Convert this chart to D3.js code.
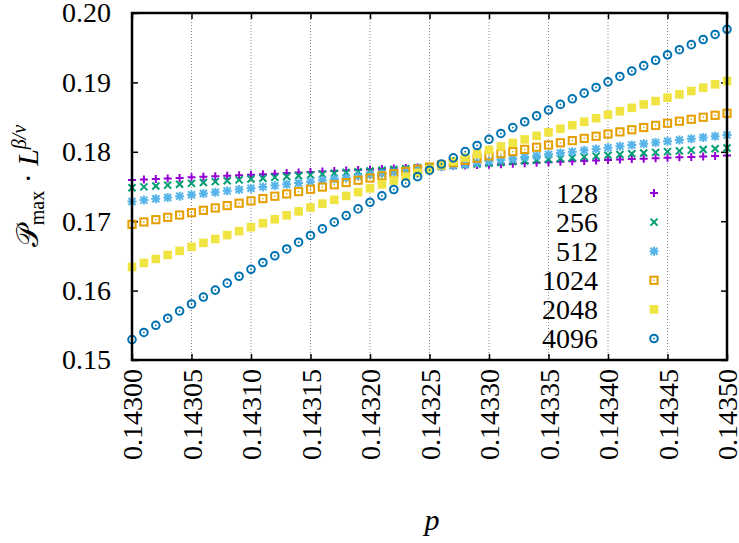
<!DOCTYPE html>
<html>
<head>
<meta charset="utf-8">
<script src="https://cdn.jsdelivr.net/npm/d3@7"></script>
<style>
  body { margin: 0; background: #fff; }
</style>
</head>
<body>
<div id="chart"></div>
<script>
// p values: 0.14300 .. 0.14350, step 0.00001
var pVals = d3.range(51).map(function(i){ return +(0.143 + i*0.00001).toFixed(5); });

var sizes = ["128", "256", "512", "1024", "2048", "4096"];

var s128 = [0.17594,0.17602,0.17609,0.17617,0.17624,0.17632,0.17640,0.17647,0.17655,0.17662,
            0.17670,0.17678,0.17685,0.17693,0.17700,0.17708,0.17715,0.17723,0.17730,0.17738,
            0.17745,0.17752,0.17759,0.17766,0.17773,0.17780,0.17787,0.17794,0.17801,0.17808,
            0.17815,0.17822,0.17829,0.17836,0.17843,0.17850,0.17856,0.17863,0.17869,0.17876,
            0.17882,0.17888,0.17895,0.17901,0.17908,0.17914,0.17920,0.17926,0.17933,0.17939,0.17945];
var s256 = [0.17483,0.17495,0.17508,0.17520,0.17533,0.17545,0.17557,0.17570,0.17582,0.17595,
            0.17607,0.17619,0.17631,0.17643,0.17655,0.17667,0.17678,0.17690,0.17701,0.17713,
            0.17724,0.17735,0.17746,0.17758,0.17769,0.17780,0.17791,0.17802,0.17814,0.17825,
            0.17836,0.17847,0.17858,0.17870,0.17881,0.17892,0.17904,0.17915,0.17927,0.17938,
            0.17950,0.17961,0.17971,0.17982,0.17992,0.18003,0.18013,0.18024,0.18034,0.18045,0.18055];
var s512 = [0.17285,0.17304,0.17323,0.17342,0.17361,0.17380,0.17399,0.17418,0.17437,0.17456,
            0.17475,0.17494,0.17513,0.17532,0.17551,0.17570,0.17589,0.17608,0.17627,0.17646,
            0.17665,0.17685,0.17705,0.17725,0.17745,0.17765,0.17785,0.17805,0.17825,0.17845,
            0.17865,0.17885,0.17904,0.17924,0.17943,0.17963,0.17982,0.18002,0.18021,0.18041,
            0.18060,0.18079,0.18097,0.18116,0.18134,0.18153,0.18171,0.18189,0.18206,0.18224,0.18242];
var s1024 = [0.16955,0.16989,0.17022,0.17056,0.17089,0.17123,0.17157,0.17191,0.17225,0.17259,
             0.17293,0.17326,0.17360,0.17393,0.17427,0.17460,0.17492,0.17525,0.17557,0.17590,
             0.17622,0.17654,0.17685,0.17717,0.17748,0.17780,0.17812,0.17844,0.17876,0.17908,
             0.17940,0.17972,0.18003,0.18035,0.18066,0.18098,0.18130,0.18161,0.18193,0.18224,
             0.18256,0.18287,0.18318,0.18350,0.18381,0.18412,0.18441,0.18469,0.18498,0.18526,0.18555];
var s2048 = [0.16340,0.16398,0.16456,0.16514,0.16572,0.16630,0.16687,0.16744,0.16800,0.16857,
             0.16914,0.16971,0.17028,0.17084,0.17141,0.17198,0.17253,0.17308,0.17364,0.17419,
             0.17474,0.17530,0.17585,0.17641,0.17696,0.17752,0.17807,0.17862,0.17916,0.17971,
             0.18026,0.18077,0.18128,0.18179,0.18230,0.18281,0.18332,0.18383,0.18433,0.18484,
             0.18535,0.18584,0.18633,0.18682,0.18731,0.18780,0.18828,0.18876,0.18924,0.18972,0.19020];
var s4096 = [0.15295,0.15397,0.15500,0.15602,0.15705,0.15807,0.15907,0.16007,0.16107,0.16207,
             0.16307,0.16405,0.16502,0.16600,0.16697,0.16795,0.16890,0.16986,0.17081,0.17177,
             0.17272,0.17365,0.17457,0.17550,0.17642,0.17735,0.17824,0.17913,0.18002,0.18091,
             0.18180,0.18264,0.18349,0.18433,0.18518,0.18602,0.18683,0.18764,0.18846,0.18927,
             0.19008,0.19086,0.19164,0.19241,0.19319,0.19397,0.19471,0.19544,0.19618,0.19691,0.19765];

var xTicks = [0.143, 0.14305, 0.1431, 0.14315, 0.1432, 0.14325, 0.1433, 0.14335, 0.1434, 0.14345, 0.1435];
var yTicks = [0.15, 0.16, 0.17, 0.18, 0.19, 0.20];

var seriesVals = [s128, s256, s512, s1024, s2048, s4096];
var colors = ["#9400d3", "#009e73", "#56b4e9", "#e69f00", "#f0e442", "#0072b2"];
var markers = ["plus", "cross", "star", "square", "fsquare", "circle"];

var SERIF = '"Liberation Serif", "Times New Roman", "DejaVu Serif", serif';

var W = 739, H = 543;
var margin = {left: 132, right: 12, top: 13, bottom: 183};
var pw = W - margin.left - margin.right, ph = H - margin.top - margin.bottom;

var svg = d3.select("#chart").append("svg").attr("width", W).attr("height", H);
var g = svg.append("g").attr("transform", "translate(" + margin.left + "," + margin.top + ")");

var x = d3.scaleLinear().domain([0.143, 0.1435]).range([0, pw]);
var y = d3.scaleLinear().domain([0.15, 0.20]).range([ph, 0]);

// vertical dotted grid
g.selectAll(".grid").data(xTicks.slice(1, -1)).enter().append("line")
  .attr("x1", function(d){ return x(d); }).attr("x2", function(d){ return x(d); })
  .attr("y1", 0).attr("y2", ph)
  .attr("stroke", "#888").attr("stroke-width", 1).attr("stroke-dasharray", "1,2");

// axes, ticks inward
var xa = g.append("g").attr("transform", "translate(0," + ph + ")")
  .call(d3.axisBottom(x).tickValues(xTicks).tickSize(-6).tickFormat(d3.format(".5f")));
xa.selectAll("text")
  .attr("transform", "rotate(-90)")
  .attr("x", -9).attr("y", 0).attr("dy", "0.35em")
  .style("text-anchor", "end").style("font-size", "28px");

g.append("g").call(d3.axisTop(x).tickValues(xTicks).tickSize(-6).tickFormat(""));

var ya = g.append("g")
  .call(d3.axisLeft(y).tickValues(yTicks).tickSize(-6).tickPadding(21).tickFormat(d3.format(".2f")));
ya.selectAll("text").style("font-size", "28px");

g.append("g").attr("transform", "translate(" + pw + ",0)")
  .call(d3.axisRight(y).tickValues(yTicks).tickSize(-6).tickFormat(""));

g.selectAll(".domain").remove();
g.selectAll(".tick line").attr("stroke", "#000").attr("stroke-width", 1.5);

var drawMarker = function(sel, type, color) {
  if (type == "plus") {
    sel.append("path").attr("d", "M-4,0H4M0,-4V4").attr("stroke", color).attr("stroke-width", 2).attr("fill", "none");
  } else if (type == "cross") {
    sel.append("path").attr("d", "M-3.5,-3.5L3.5,3.5M-3.5,3.5L3.5,-3.5").attr("stroke", color).attr("stroke-width", 2).attr("fill", "none");
  } else if (type == "star") {
    sel.append("path").attr("d", "M-4.5,0H4.5M0,-4.5V4.5M-3.5,-3.5L3.5,3.5M-3.5,3.5L3.5,-3.5")
      .attr("stroke", color).attr("stroke-width", 2).attr("fill", "none");
  } else if (type == "square") {
    sel.append("rect").attr("x", -3.6).attr("y", -3.6).attr("width", 7.2).attr("height", 7.2)
      .attr("stroke", color).attr("stroke-width", 2).attr("fill", "none");
    sel.append("rect").attr("x", -0.7).attr("y", -0.7).attr("width", 1.4).attr("height", 1.4).attr("fill", color);
  } else if (type == "fsquare") {
    sel.append("rect").attr("x", -4.3).attr("y", -4.3).attr("width", 8.6).attr("height", 8.6).attr("fill", color);
  } else {
    sel.append("circle").attr("r", 3.8).attr("stroke", color).attr("stroke-width", 2).attr("fill", "none");
    sel.append("circle").attr("r", 0.9).attr("fill", color);
  }
};

// data points, 128 first, 4096 on top
seriesVals.forEach(function(vals, k) {
  var pts = g.append("g").selectAll("g").data(vals).enter().append("g")
    .attr("transform", function(d, i){ return "translate(" + x(pVals[i]) + "," + y(d) + ")"; });
  drawMarker(pts, markers[k], colors[k]);
});

// frame
g.append("rect").attr("width", pw).attr("height", ph)
  .attr("fill", "none").attr("stroke", "#000").attr("stroke-width", 2.5);

// legend
var leg = svg.append("g");
sizes.forEach(function(s, k) {
  var ly = 193 + k * 29.1;
  leg.append("text").attr("x", 598).attr("y", ly).attr("dy", "0.35em")
    .attr("text-anchor", "end").style("font-size", "28px").text(s);
  var m = leg.append("g").attr("transform", "translate(654," + ly + ")");
  drawMarker(m, markers[k], colors[k]);
});

// axis titles
svg.append("text").attr("x", 432).attr("y", 530).attr("text-anchor", "middle")
  .style("font-size", "30px").style("font-style", "italic").text("p");

var yt = svg.append("text").attr("transform", "translate(38,186) rotate(-90)")
  .attr("text-anchor", "middle").style("font-size", "30px");
yt.append("tspan").attr("class", "cal").style("font-family", "DejaVu Serif").text("\uD835\uDCAB");
yt.append("tspan").attr("dy", 6).style("font-size", "20px").text("max");
yt.append("tspan").attr("dy", -6).text(" \u00B7 ");
yt.append("tspan").style("font-style", "italic").text("L");
yt.append("tspan").attr("dy", -12).style("font-size", "20px").style("font-style", "italic").text("\u03B2/\u03BD");

// serif everywhere (axis groups set sans-serif)
svg.selectAll("g").attr("font-family", null);
svg.selectAll("text").style("font-family", SERIF).attr("fill", "#000");
yt.selectAll("tspan").style("font-family", SERIF);
yt.select(".cal").style("font-family", '"DejaVu Serif", serif');
</script>
</body>
</html>
